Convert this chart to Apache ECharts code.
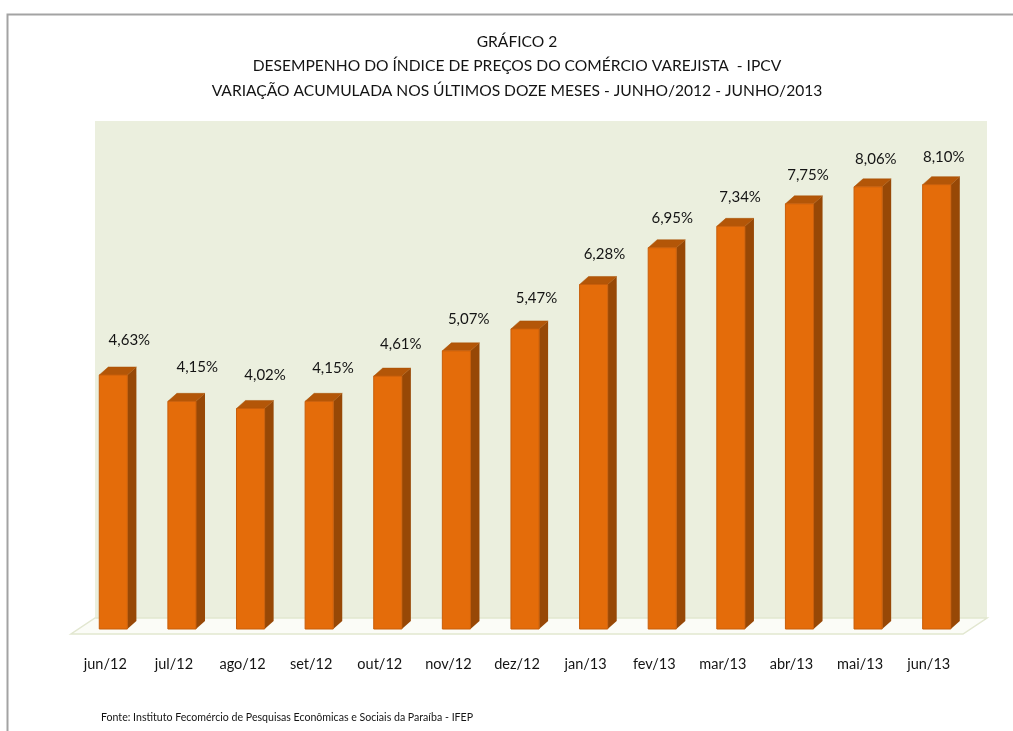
<!DOCTYPE html>
<html><head><meta charset="utf-8">
<script src="https://cdn.jsdelivr.net/npm/echarts@6/dist/echarts.min.js"></script>
<style>html,body{margin:0;padding:0;background:#fff}#c{width:1013px;height:731px}</style>
</head><body><div id="c"></div>
<script>
const categories = ['jun/12','jul/12','ago/12','set/12','out/12','nov/12','dez/12','jan/13','fev/13','mar/13','abr/13','mai/13','jun/13'];
const values = [4.63,4.15,4.02,4.15,4.61,5.07,5.47,6.28,6.95,7.34,7.75,8.06,8.10];
const titleLines = ['GRÁFICO 2','DESEMPENHO DO ÍNDICE DE PREÇOS DO COMÉRCIO VAREJISTA  - IPCV','VARIAÇÃO ACUMULADA NOS ÚLTIMOS DOZE MESES - JUNHO/2012 - JUNHO/2013'];
const sourceNote = 'Fonte: Instituto Fecomércio de Pesquisas Econômicas e Sociais da Paraíba - IFEP';

const FONT = "Lato, 'Liberation Sans', sans-serif";
const TXT = '#141414';
const fmt = v => v.toFixed(2).replace('.', ',') + '%';

const chart = echarts.init(document.getElementById('c'), null, {renderer: 'canvas'});

function renderBackdrop(params, api) {
  const cs = params.coordSys;
  const x0 = cs.x, x1 = cs.x + cs.width, yTop = cs.y, yZero = cs.y + cs.height;
  const D = 24, backY = yZero - 11, frontY = yZero + 5;
  return {type: 'group', silent: true, children: [
    {type: 'rect', shape: {x: x0 + D, y: yTop, width: cs.width, height: backY - yTop}, style: {fill: '#ebefde'}},
    {type: 'polygon', shape: {points: [[x0, frontY], [x1, frontY], [x1 + D, backY], [x0 + D, backY]]},
     style: {fill: '#fbfcf7', stroke: '#e2e7d0', lineWidth: 1.5}}
  ]};
}

function renderBar(params, api) {
  const i = api.value(0);
  const v = api.value(1);
  const c = api.coord([i, v]);
  const z = api.coord([i, 0]);
  const band = api.size([1, 0])[0];
  const w = band * 0.41;
  const cx = c[0] + band * 0.117;
  const xl = cx - w / 2, xr = cx + w / 2;
  const dx = 9, dy = 8;
  const top = c[1], bot = z[1];
  return {type: 'group', children: [
    {type: 'polygon', shape: {points: [[xr, top], [xr + dx, top - dy], [xr + dx, bot - dy], [xr, bot]]},
     style: {fill: '#974806'}},
    {type: 'polygon', shape: {points: [[xl, top], [xl + dx, top - dy], [xr + dx, top - dy], [xr, top]]},
     style: {fill: '#b35608', stroke: '#a85207', lineWidth: 0.5}},
    {type: 'rect', shape: {x: xl, y: top, width: w, height: bot - top},
     style: {fill: '#e46c0a', stroke: '#c85e0b', lineWidth: 1}},
    {type: 'text', x: cx + (16 - 0.75 * i), y: top - dy - (27 - 0.65 * i),
     style: {text: fmt(v), align: 'center', verticalAlign: 'middle', fontSize: 15, fontFamily: FONT, fill: TXT}}
  ]};
}

const graphics = [
  {type: 'rect', shape: {x: 7.5, y: 14.5, width: 1030, height: 740}, style: {fill: 'none', stroke: '#a3a3a3', lineWidth: 2}, z: 100},
  {type: 'text', left: 101, top: 712, style: {text: sourceNote, fontSize: 10.6, fontFamily: FONT, fill: TXT}}
];
const titleY = [42, 66, 91];
titleLines.forEach((t, k) => {
  graphics.push({type: 'text', x: 517, y: titleY[k],
    style: {text: t, align: 'center', verticalAlign: 'middle', fontSize: 15.6, fontFamily: FONT, fill: TXT}});
});

chart.setOption({
  animation: false,
  backgroundColor: '#ffffff',
  grid: {left: 71, right: 50, top: 121, bottom: 102},
  xAxis: {type: 'category', data: categories,
    axisLine: {show: false}, axisTick: {show: false},
    axisLabel: {fontSize: 14.5, color: TXT, fontFamily: FONT, margin: 28}},
  yAxis: {type: 'value', min: 0, max: 9.26, show: false, splitLine: {show: false}},
  graphic: graphics,
  series: [
    {type: 'custom', renderItem: renderBackdrop, data: [[0, 0]], encode: {x: 0, y: 1}, z: 1, silent: true},
    {type: 'custom', renderItem: renderBar, data: values.map((v, i) => [i, v]), encode: {x: 0, y: 1}, z: 2}
  ]
});
</script>
</body></html>
